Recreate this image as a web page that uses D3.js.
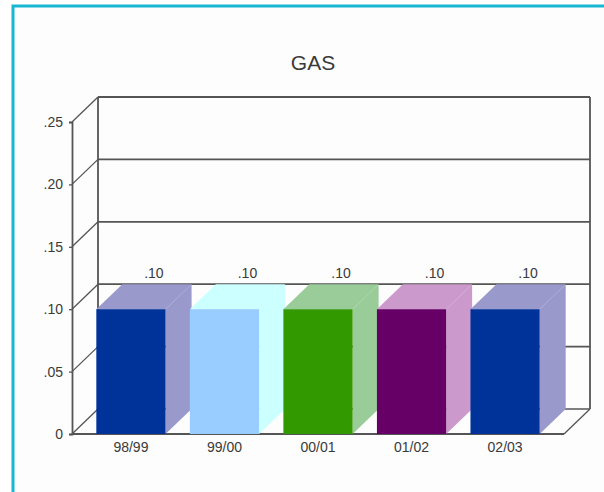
<!DOCTYPE html>
<html>
<head>
<meta charset="utf-8">
<script src="https://cdn.jsdelivr.net/npm/d3@7"></script>
<style>
  html, body { margin: 0; padding: 0; background: #ffffff; }
  svg { display: block; font-family: "Liberation Sans", Arial, sans-serif; }
</style>
</head>
<body>
<svg id="chart" width="604" height="492"></svg>
<script>
// Data
const title = "GAS";
const categories = ["98/99", "99/00", "00/01", "01/02", "02/03"];
const values = [0.10, 0.10, 0.10, 0.10, 0.10];
const valueLabels = [".10", ".10", ".10", ".10", ".10"];
const yTicks = [0, 0.05, 0.10, 0.15, 0.20, 0.25];
const yTickLabels = ["0", ".05", ".10", ".15", ".20", ".25"];
const frontColors = ["#003399", "#99ccff", "#339900", "#660066", "#003399"];
const shadeColors = ["#9999cc", "#ccffff", "#99cc99", "#cc99cc", "#9999cc"];

const svg = d3.select("#chart");
const FONT = "'Liberation Sans', Arial, sans-serif";
const textColor = "#3a3a3a";

// Frame
svg.append("rect")
  .attr("x", 13).attr("y", 6)
  .attr("width", 620).attr("height", 520)
  .attr("fill", "#fdfdfd")
  .attr("stroke", "#19b6d2").attr("stroke-width", 3);

// Scales for the front plane; the back plane is shifted by the depth vector
const x = d3.scaleBand().domain(categories).range([72, 564]).padding(0.26);
const y = d3.scaleLinear().domain([0, 0.25]).range([434, 122]);
const DX = 26, DY = -25;
const x0 = x.range()[0], x1 = x.range()[1];

const lineColor = "#555";
const g = svg.append("g");

// Back wall gridlines
g.selectAll("line.grid")
  .data(yTicks.filter(d => d > 0))
  .join("line")
  .attr("class", "grid")
  .attr("x1", x0 + DX).attr("x2", x1 + DX)
  .attr("y1", d => y(d) + DY).attr("y2", d => y(d) + DY)
  .attr("stroke", lineColor).attr("stroke-width", 1.8);

// Back wall verticals
[x0 + DX, x1 + DX].forEach(xv => {
  g.append("line")
    .attr("x1", xv).attr("x2", xv)
    .attr("y1", y(0) + DY).attr("y2", y(0.25) + DY)
    .attr("stroke", lineColor).attr("stroke-width", 1.8);
});

// Side wall diagonals
g.selectAll("line.diag")
  .data(yTicks)
  .join("line")
  .attr("class", "diag")
  .attr("x1", x0).attr("x2", x0 + DX)
  .attr("y1", d => y(d)).attr("y2", d => y(d) + DY)
  .attr("stroke", lineColor).attr("stroke-width", 1.3);

// Floor edges
g.append("line")
  .attr("x1", x0 + DX).attr("x2", x1 + DX)
  .attr("y1", y(0) + DY).attr("y2", y(0) + DY)
  .attr("stroke", lineColor).attr("stroke-width", 1.3);
g.append("line")
  .attr("x1", x1).attr("x2", x1 + DX)
  .attr("y1", y(0)).attr("y2", y(0) + DY)
  .attr("stroke", lineColor).attr("stroke-width", 1.3);
g.append("line")
  .attr("x1", x0).attr("x2", x1)
  .attr("y1", y(0)).attr("y2", y(0))
  .attr("stroke", lineColor).attr("stroke-width", 1.8);

// Bars
const barData = categories.map((c, i) => ({ c, v: values[i], i }));
const bars = g.selectAll("g.bar").data(barData).join("g").attr("class", "bar");
const pts = arr => arr.map(p => p.join(",")).join(" ");

// top face
bars.append("polygon")
  .attr("points", d => {
    const l = x(d.c), r = l + x.bandwidth(), t = y(d.v);
    return pts([[l, t], [r, t], [r + DX, t + DY], [l + DX, t + DY]]);
  })
  .attr("fill", d => shadeColors[d.i]);
// side face
bars.append("polygon")
  .attr("points", d => {
    const r = x(d.c) + x.bandwidth(), t = y(d.v), b = y(0);
    return pts([[r, t], [r + DX, t + DY], [r + DX, b + DY], [r, b]]);
  })
  .attr("fill", d => shadeColors[d.i]);
// front face
bars.append("rect")
  .attr("x", d => x(d.c))
  .attr("y", d => y(d.v))
  .attr("width", x.bandwidth())
  .attr("height", d => y(0) - y(d.v))
  .attr("fill", d => frontColors[d.i]);

// Value labels above the back edge of each bar top
g.selectAll("text.val")
  .data(barData)
  .join("text")
  .attr("class", "val")
  .attr("x", d => x(d.c) + x.bandwidth() / 2 + DX - 3)
  .attr("y", d => y(d.v) + DY - 6)
  .attr("text-anchor", "middle")
  .attr("font-size", 14)
  .attr("fill", textColor)
  .text(d => valueLabels[d.i]);

// Front value axis
const yAxis = svg.append("g")
  .attr("transform", `translate(${x0},0)`)
  .call(d3.axisLeft(y).tickValues(yTicks).tickSize(3).tickPadding(6)
    .tickFormat((d, i) => yTickLabels[i]));
yAxis.select(".domain").attr("stroke", lineColor).attr("stroke-width", 1.8);
yAxis.selectAll(".tick line").attr("stroke", lineColor).attr("stroke-width", 1.3);
yAxis.selectAll(".tick text").attr("font-size", 14).attr("fill", textColor)
  .attr("font-family", FONT);

// Category axis
const xAxis = svg.append("g")
  .attr("transform", `translate(0,${y(0)})`)
  .call(d3.axisBottom(x).tickSize(0).tickPadding(8));
xAxis.select(".domain").remove();
xAxis.selectAll(".tick text").attr("font-size", 14).attr("fill", textColor)
  .attr("font-family", FONT);

// Title
svg.append("text")
  .attr("x", 313).attr("y", 70)
  .attr("text-anchor", "middle")
  .attr("font-size", 21)
  .attr("fill", textColor)
  .text(title);
</script>
</body>
</html>
